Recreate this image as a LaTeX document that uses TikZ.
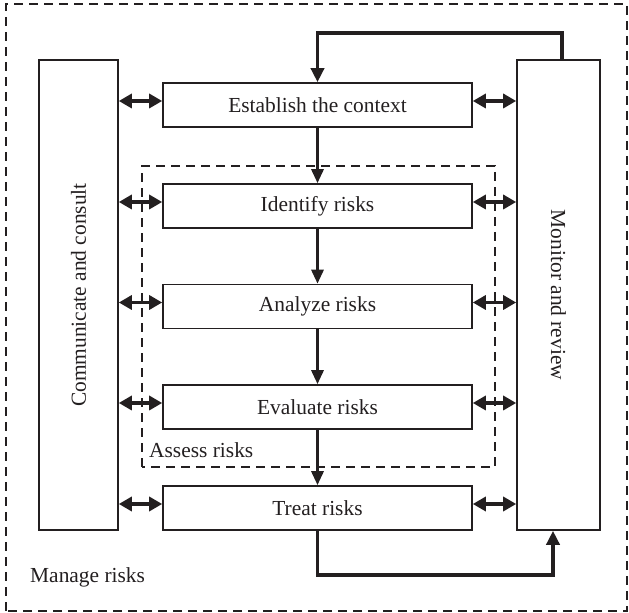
\documentclass[tikz,border=0pt]{standalone}
\usepackage{fontspec}
\setmainfont{Liberation Serif}
\usetikzlibrary{arrows.meta}
\definecolor{ink}{HTML}{231F20}
\begin{document}
\begin{tikzpicture}[x=1bp,y=1bp,
  font=\fontsize{21.5}{25}\selectfont,
  every node/.style={text=ink},
  sidebox/.style={draw=ink, line width=1.6bp, minimum width=#1, minimum height=470bp, inner sep=0pt},
  stepbox/.style={draw=ink, line width=1.6bp, minimum width=309bp, minimum height=44bp, inner sep=0pt},
  frame/.style={draw=ink, line width=1.4bp, dash pattern=on 9bp off 6bp},
  tag/.style={anchor=base west, inner sep=0pt},
  twoway/.style={draw=ink, line width=3.6bp, {Triangle[length=13bp,width=14bp]}-{Triangle[length=13bp,width=14bp]}},
  flow/.style={draw=ink, line width=3bp, -{Triangle[length=14bp,width=12bp]}},
  loop/.style={draw=ink, line width=3.6bp, -{Triangle[length=14bp,width=13bp]}}
]
\useasboundingbox (0,0) rectangle (629,613);

% outer "Manage risks" frame
\draw[frame] (6,2) rectangle (627,609);
\node[tag] (manage) at (30,30) {Manage risks};

% inner "Assess risks" frame
\draw[frame] (142,146) rectangle (495,447);
\node[tag] (assess) at (149,155) {Assess risks};

% side columns
\node[sidebox=79bp] (cc) at (78.5,318) {};
\node[rotate=90] (cclabel) at (cc.center) {Communicate and consult};
\node[sidebox=83bp] (mr) at (558.5,318) {};
\node[rotate=-90] (mrlabel) at (mr.center) {Monitor and review};

% process steps
\node[stepbox] (est) at (317.5,508) {Establish the context};
\node[stepbox] (idr) at (317.5,407) {Identify risks};
\node[stepbox] (ana) at (317.5,306.5) {Analyze risks};
\node[stepbox] (eva) at (317.5,206) {Evaluate risks};
\node[stepbox] (tre) at (317.5,105) {Treat risks};

% sequence between steps
\draw[flow] (est.south) -- (idr.north);
\draw[flow] (idr.south) -- (ana.north);
\draw[flow] (ana.south) -- (eva.north);
\draw[flow] (eva.south) -- (tre.north);

% exchanges with the side columns, level with the step labels
\foreach \s in {est,idr,ana,eva,tre}{
  \draw[twoway] ([yshift=4bp]cc.east |- \s.west) -- ([yshift=4bp]\s.west);
  \draw[twoway] ([yshift=4bp]\s.east) -- ([yshift=4bp]mr.west |- \s.east);
}

% feedback loops
\draw[loop] ([xshift=3.5bp]mr.north) -- ++(0,26) -| (est.north);
\draw[loop] (tre.south) -- ++(0,-44) -| ([xshift=-5.5bp]mr.south);
\end{tikzpicture}
\end{document}
